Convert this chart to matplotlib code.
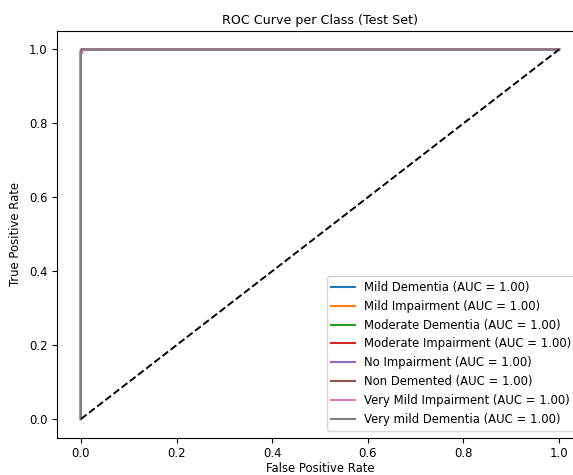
import matplotlib
matplotlib.use("Agg")
import matplotlib.pyplot as plt

classes = ["Mild Dementia", "Mild Impairment", "Moderate Dementia", "Moderate Impairment",
           "No Impairment", "Non Demented", "Very Mild Impairment", "Very mild Dementia"]
auc_values = [1.00, 1.00, 1.00, 1.00, 1.00, 1.00, 1.00, 1.00]
fpr_curves = [
    [0.0, 0.0, 0.002, 1.0],
    [0.0, 0.0, 0.003, 1.0],
    [0.0, 0.0, 0.001, 1.0],
    [0.0, 0.0, 0.001, 1.0],
    [0.0, 0.0, 0.002, 1.0],
    [0.0, 0.0, 0.002, 1.0],
    [0.0, 0.0, 0.006, 1.0],
    [0.0, 0.0, 0.003, 1.0],
]
tpr_curves = [
    [0.0, 0.995, 1.0, 1.0],
    [0.0, 0.99, 1.0, 1.0],
    [0.0, 0.998, 1.0, 1.0],
    [0.0, 0.998, 1.0, 1.0],
    [0.0, 0.995, 1.0, 1.0],
    [0.0, 0.995, 1.0, 1.0],
    [0.0, 0.985, 1.0, 1.0],
    [0.0, 0.997, 1.0, 1.0],
]
colors = ["#1f77b4", "#ff7f0e", "#2ca02c", "#d62728", "#9467bd", "#8c564b", "#e377c2", "#7f7f7f"]

fs = 8.4
fig = plt.figure(figsize=(5.73, 4.75), dpi=100)
ax = fig.add_axes([57/573, 1 - 437.5/475, 526/573, 406.5/475])
for name, auc, fpr, tpr, c in zip(classes, auc_values, fpr_curves, tpr_curves, colors):
    ax.plot(fpr, tpr, color=c, lw=1.5, label=f"{name} (AUC = {auc:.2f})")
ax.plot([0, 1], [0, 1], "k--", lw=1.4)
ax.set_xlim(-0.05, 1.05)
ax.set_ylim(-0.05, 1.05)
ax.set_xticks([0.0, 0.2, 0.4, 0.6, 0.8, 1.0])
ax.set_yticks([0.0, 0.2, 0.4, 0.6, 0.8, 1.0])
ax.tick_params(labelsize=fs)
ax.set_xlabel("False Positive Rate", fontsize=fs, labelpad=1.5)
ax.set_ylabel("True Positive Rate", fontsize=fs, labelpad=5)
ax.set_title("ROC Curve per Class (Test Set)", fontsize=9.1, pad=5)
ax.legend(loc="lower right", fontsize=fs, borderaxespad=0.6)
fig.savefig("out.png", dpi=100)
